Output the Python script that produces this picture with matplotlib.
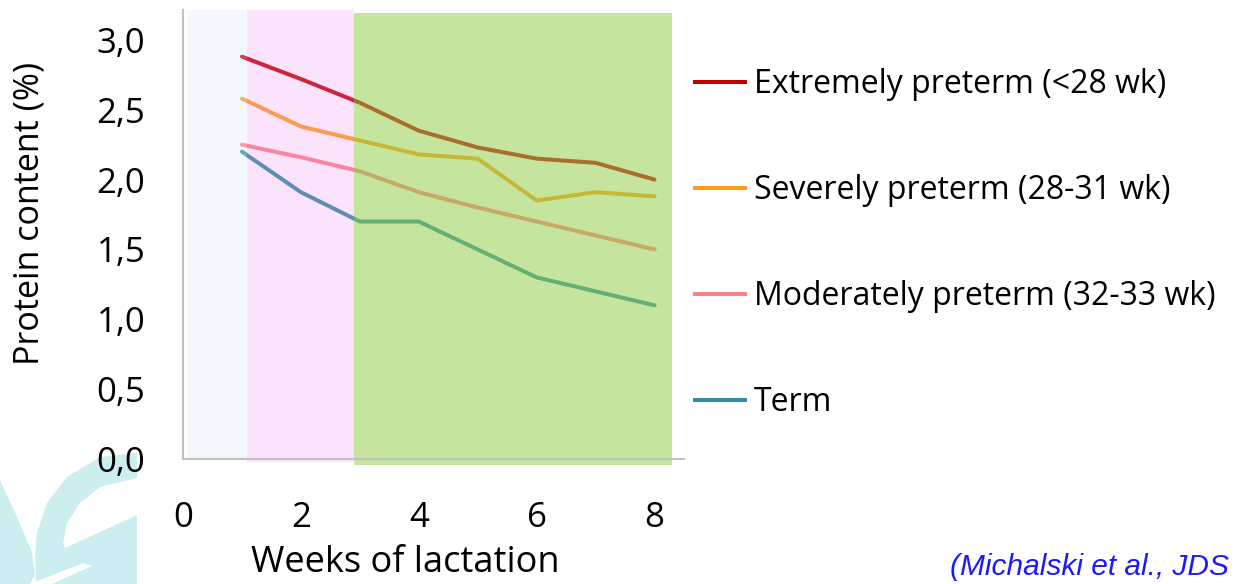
import matplotlib
matplotlib.use("Agg")
import matplotlib.pyplot as plt
from matplotlib.patches import Rectangle, Polygon
from matplotlib.lines import Line2D

weeks = [1, 2, 3, 4, 5, 6, 7, 8]
extremely = [2.88, 2.72, 2.55, 2.35, 2.23, 2.15, 2.12, 2.00]
severely = [2.58, 2.38, 2.28, 2.18, 2.15, 1.85, 1.91, 1.88]
moderately = [2.25, 2.16, 2.06, 1.91, 1.80, 1.70, 1.60, 1.50]
term = [2.20, 1.91, 1.70, 1.70, 1.50, 1.30, 1.20, 1.10]
labels = ["Extremely preterm (<28 wk)", "Severely preterm (28-31 wk)",
          "Moderately preterm (32-33 wk)", "Term"]
colors = ["#c00000", "#ff9d1e", "#ff7f86", "#2e8ba0"]
yticks = [0.0, 0.5, 1.0, 1.5, 2.0, 2.5, 3.0]
xticks = [0, 2, 4, 6, 8]

FONT = "Open Sans"
W, H = 1240, 584
fig = plt.figure(figsize=(W / 100, H / 100), dpi=100)

# background watermark (figure-pixel axes)
bg = fig.add_axes([0, 0, 1, 1], zorder=0)
bg.set_xlim(0, W)
bg.set_ylim(H, 0)
bg.axis("off")
teal = "#cdeef0"
shapes = [
    Polygon([[137, 453], [100, 457], [67, 477], [47, 503], [37, 533], [35, 555],
             [36, 584], [137, 584]], closed=True, color=teal, lw=0),
    Polygon([[137, 478], [100, 487], [80, 503], [67, 523], [63, 543], [65, 548],
             [137, 515]], closed=True, color="white", lw=0),
    Polygon([[30, 584], [83, 563], [92, 566], [52, 584]], closed=True, color="white", lw=0),
    Polygon([[0, 480], [17, 517], [32, 552], [35, 575], [30, 584], [0, 584]], closed=True,
            color=teal, lw=0),
]
for s in shapes:
    bg.add_patch(s)

ax = fig.add_axes([183 / W, 1 - 459 / H, (684 - 183) / W, (459 - 10) / H], zorder=1)
ax.patch.set_alpha(0)
ax.set_xlim(0, 8.5)
ax.set_ylim(0, 3.214)

series = [extremely, severely, moderately, term]
for vals, c, lab in zip(series, colors, labels):
    ax.plot(weeks, vals, color=c, lw=2.9, solid_capstyle="round", label=lab, zorder=2)

# phase shading
ax.add_patch(Rectangle((0.07, 0), 1.01, 3.214, facecolor=(220/255, 232/255, 248/255),
                       alpha=0.3, lw=0, zorder=3, clip_on=False))
ax.add_patch(Rectangle((1.08, -0.025), 1.82, 3.239, facecolor=(240/255, 150/255, 240/255),
                       alpha=0.25, lw=0, zorder=3, clip_on=False))
ax.add_patch(Rectangle((2.9, -0.043), 5.4, 3.236, facecolor=(148/255, 207/255, 79/255),
                       alpha=0.54, lw=0, zorder=3, clip_on=False))

for sp in ["top", "right"]:
    ax.spines[sp].set_visible(False)
for sp in ["left", "bottom"]:
    ax.spines[sp].set_color("#c0c0c0")
    ax.spines[sp].set_linewidth(1.5)
    ax.spines[sp].set_zorder(4)

ax.set_yticks(yticks)
ax.set_yticklabels([f"{v:.1f}".replace(".", ",") for v in yticks])
ax.set_xticks(xticks)
ax.set_xticklabels([str(v) for v in xticks])
ax.tick_params(axis="y", length=0, pad=27, labelsize=25)
ax.tick_params(axis="x", length=0, pad=30, labelsize=25)
for t in ax.get_xticklabels() + ax.get_yticklabels():
    t.set_fontfamily(FONT)

ax.set_ylabel("Protein content (%)", fontsize=24.5, family=FONT)
ax.set_xlabel("Weeks of lactation", fontsize=26, family=FONT)
# label centres (figure pixels -> axes fraction)
ax.yaxis.set_label_coords((30 - 183) / (684 - 183), (459 - 213) / (459 - 10))
ax.xaxis.set_label_coords((405 - 183) / (684 - 183), (459 - 563) / (459 - 10))
ax.yaxis.label.set_va("center")
ax.xaxis.label.set_va("center")

handles = [Line2D([], [], color=c, lw=2.9) for c in colors]
leg = fig.legend(handles, labels, loc="upper left", bbox_to_anchor=(695 / W, 1 - 68 / H),
                 frameon=False, prop={"family": FONT, "size": 23},
                 handlelength=1.55, handletextpad=0.3, labelspacing=2.29,
                 borderaxespad=0, borderpad=0)

fig.text(950 / W, 1 - 575 / H, "(Michalski et al., JDS", color="#1a1aff",
         fontsize=21.5, style="italic", family="Liberation Sans", ha="left", va="baseline")

fig.savefig("out.png", dpi=100)
